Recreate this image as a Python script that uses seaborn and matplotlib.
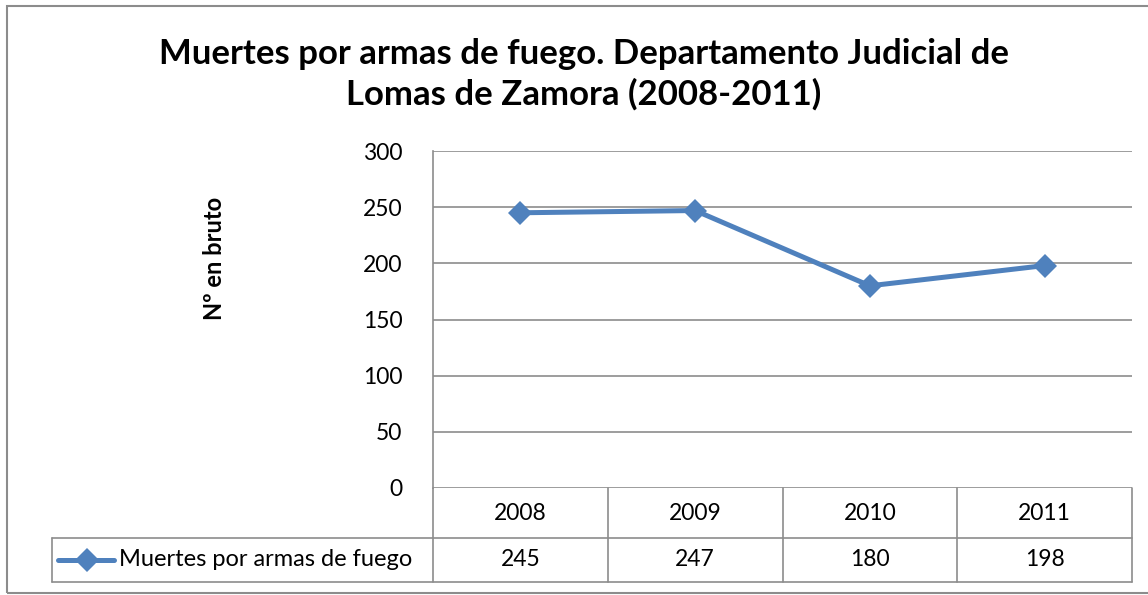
import matplotlib
matplotlib.use("Agg")
import matplotlib.pyplot as plt
import matplotlib.transforms as mtransforms
from matplotlib.lines import Line2D
from matplotlib.patches import Rectangle
import seaborn as sns
import pandas as pd

# Data
years = ["2008", "2009", "2010", "2011"]
deaths = [245, 247, 180, 198]
series_name = "Muertes por armas de fuego"
title_text = "Muertes por armas de fuego. Departamento Judicial de\nLomas de Zamora (2008-2011)"
y_label = "Nº en bruto"
y_ticks = [0, 50, 100, 150, 200, 250, 300]

sns.set_theme(style="white")
plt.rcParams["font.family"] = ["Lato", "DejaVu Sans"]

W, H = 1148, 595
fig = plt.figure(figsize=(W / 100, H / 100), dpi=100)

def fx(px):
    return px / W

def fy(py):
    return 1 - py / H

LINE_COLOR = "#4F81BD"
GRID = "#8C8C8C"
FS = 16.5
LW = 3.6
MS = 12

ax_left, ax_right, ax_top, ax_bottom = 433, 1132, 151, 488
ax = fig.add_axes([fx(ax_left), fy(ax_bottom), fx(ax_right - ax_left), (ax_bottom - ax_top) / H])

df = pd.DataFrame({"pos": range(len(years)), "value": deaths})
sns.lineplot(data=df, x="pos", y="value", ax=ax, color=LINE_COLOR, linewidth=LW,
             marker="D", markersize=MS, markeredgewidth=0, markerfacecolor=LINE_COLOR)

ax.set_xlim(-0.5, len(years) - 0.5)
ax.set_ylim(0, 300)
ax.set_yticks(y_ticks)
ax.set_yticklabels([str(t) for t in y_ticks], fontsize=FS, color="#000000")
ax.tick_params(axis="y", length=0, pad=22)
ax.set_xticks([])
ax.set_xlabel("")
ax.set_ylabel("")
ax.grid(axis="y", color=GRID, linewidth=1.2)
for s in ["top", "right", "bottom"]:
    ax.spines[s].set_visible(False)
ax.spines["left"].set_color(GRID)
ax.spines["left"].set_linewidth(1.2)

fig.text(fx(215), fy(258), y_label, rotation=90, ha="center", va="center",
         fontsize=17, fontweight="bold", color="#000000")

fig.text(fx(584), fy(74), title_text, ha="center", va="center",
         fontsize=25, fontweight="bold", color="#000000", linespacing=1.3)

# Data table below the plot
blend = mtransforms.blended_transform_factory(ax.transData, fig.transFigure)
row1_top, row1_bot, row2_bot = 488, 538, 582
legend_left = 52
n = len(years)
lw = 1.2

# horizontal lines of the table
for py in (row1_bot, row2_bot):
    fig.add_artist(Line2D([fx(legend_left), fx(ax_right)], [fy(py), fy(py)], color=GRID, lw=lw,
                          transform=fig.transFigure))
# vertical column boundaries
for i in range(n + 1):
    xb = i - 0.5
    fig.add_artist(Line2D([xb, xb], [fy(row1_top), fy(row2_bot)], color=GRID, lw=lw,
                          transform=blend))
# legend cell left edge
fig.add_artist(Line2D([fx(legend_left), fx(legend_left)], [fy(row1_bot), fy(row2_bot)],
                      color=GRID, lw=lw, transform=fig.transFigure))

for i, (yr, v) in enumerate(zip(years, deaths)):
    fig.text(i, fy((row1_top + row1_bot) / 2), yr, transform=blend, ha="center",
             va="center", fontsize=FS, color="#000000")
    fig.text(i, fy((row1_bot + row2_bot) / 2), str(v), transform=blend, ha="center",
             va="center", fontsize=FS, color="#000000")

# legend key in the table
ly = fy((row1_bot + row2_bot) / 2)
fig.add_artist(Line2D([fx(58), fx(114)], [ly, ly], color=LINE_COLOR, lw=LW,
                      solid_capstyle="round", transform=fig.transFigure))
fig.add_artist(Line2D([fx(87)], [ly], color=LINE_COLOR, marker="D", markersize=MS,
                      markeredgewidth=0, transform=fig.transFigure))
fig.text(fx(119), ly, series_name, ha="left", va="center", fontsize=17, color="#000000")

# chart border
fig.add_artist(Rectangle((fx(6.5), fy(593)), fx(1160), (593 - 6) / H, fill=False,
                         edgecolor=GRID, lw=1.5, transform=fig.transFigure))

fig.savefig("out.png", dpi=100)
